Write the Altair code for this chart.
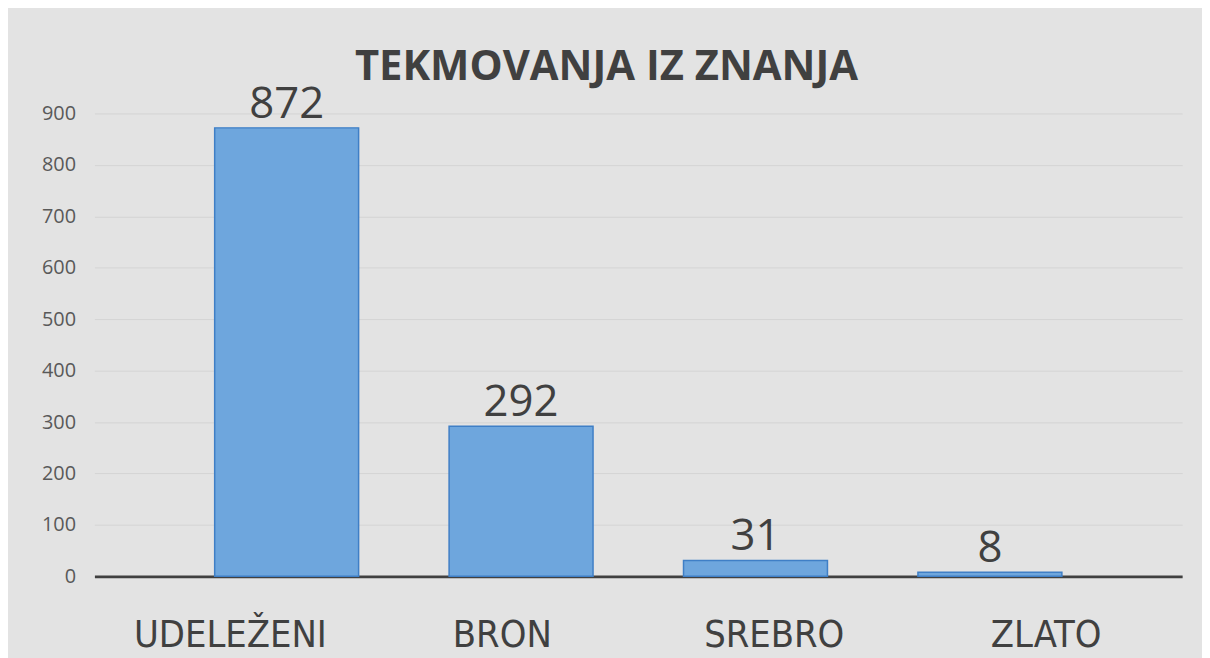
import altair as alt
import pandas as pd

categories = ["UDELEŽENI", "BRON", "SREBRO", "ZLATO"]
values = [872, 292, 31, 8]
y_ticks = [0, 100, 200, 300, 400, 500, 600, 700, 800, 900]

df = pd.DataFrame({"kat": categories, "val": values})

W, H = 1095, 466
yscale = alt.Scale(domain=[0, 900], nice=False)
yaxis = alt.Axis(values=y_ticks, labelFontSize=20, labelColor="#595959",
                 labelFont="Open Sans", labelPadding=19, ticks=False, domain=False,
                 grid=True, gridColor="#d4d4d4", gridWidth=1)

axis_layer = alt.Chart(df).mark_bar(opacity=0).encode(
    x=alt.X("kat:N", sort=categories, title=None,
            scale=alt.Scale(paddingInner=0, paddingOuter=0),
            axis=alt.Axis(labelAngle=0, labelFontSize=38, labelFont="DejaVu Sans Condensed",
                          labelColor="#404040", labelPadding=41, ticks=False, labelLimit=0,
                          domainColor="#404040", domainWidth=3)),
    y=alt.Y("val:Q", title=None, scale=yscale, axis=yaxis),
)

bx = alt.X("kat:N", sort=categories, axis=None,
           scale=alt.Scale(paddingInner=0.386, paddingOuter=0.513))

bars = alt.Chart(df).mark_bar(color="#6ea6dd", stroke="#3f7fc6", strokeWidth=1.5).encode(
    x=bx,
    y=alt.Y("val:Q", title=None, scale=yscale, axis=yaxis),
)

labels = alt.Chart(df).mark_text(baseline="alphabetic", dy=-10, fontSize=44,
                                 font="Open Sans", color="#404040").encode(
    x=bx,
    y=alt.Y("val:Q", title=None, scale=yscale, axis=yaxis),
    text="val:Q",
)

chart = alt.layer(axis_layer, bars + labels).resolve_scale(x="independent").properties(
    width=W, height=H,
    title=alt.TitleParams("TEKMOVANJA IZ ZNANJA", fontSize=42, font="Open Sans",
                          fontWeight="bold", color="#404040", anchor="middle",
                          dx=-32, offset=-6),
    autosize=alt.AutoSizeParams(type="none"),
    padding={"left": 87, "top": 104, "right": 20, "bottom": 80},
    background="#e3e3e3",
).configure_view(stroke=None).configure_axisY(labelFontSize=20, labelPadding=19)

chart.save("out.html", embed_options={"renderer": "svg", "actions": False})
